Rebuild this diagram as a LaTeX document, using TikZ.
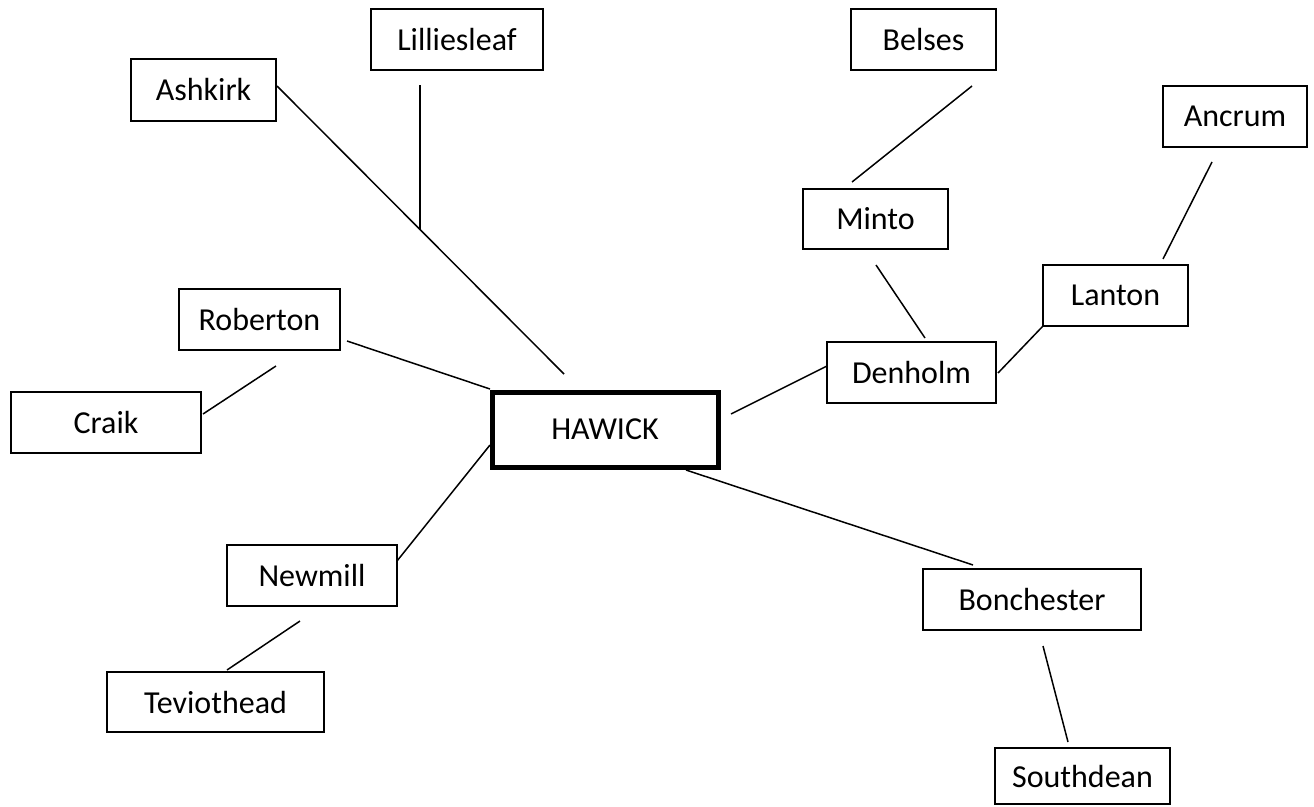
\documentclass[tikz,border=0pt]{standalone}
\usepackage{fontspec}
\setmainfont{Carlito}
\usetikzlibrary{calc}
\tikzset{
  place/.style={draw=black, line width=2pt, rectangle, outer sep=0pt, inner sep=0pt,
    font=\fontsize{32}{38}\selectfont, text=black},
  hub/.style={place, line width=5pt},
  link/.style={draw=black, line width=1.5pt}
}
\begin{document}
\begin{tikzpicture}[x=1pt,y=-1pt]
\useasboundingbox[fill=white] (0,0) rectangle (1314,806);
% nodes
\node[place, minimum width=172pt, minimum height=61pt] (lilliesleaf) at (457,39.5) {Lilliesleaf};
\node[place, minimum width=145pt, minimum height=62pt] (ashkirk) at (203.5,90) {Ashkirk};
\node[place, minimum width=145pt, minimum height=61pt] (belses) at (923.5,39.5) {Belses};
\node[place, minimum width=144pt, minimum height=61pt] (ancrum) at (1235,116.5) {Ancrum};
\node[place, minimum width=145pt, minimum height=60pt] (minto) at (875.5,219) {Minto};
\node[place, minimum width=145pt, minimum height=61pt] (lanton) at (1115.5,295.5) {Lanton};
\node[place, minimum width=169pt, minimum height=61pt] (denholm) at (911.5,372.5) {Denholm};
\node[place, minimum width=161pt, minimum height=61pt] (roberton) at (259.5,319.5) {Roberton};
\node[place, minimum width=190pt, minimum height=61pt] (craik) at (106,422.5) {Craik};
\node[hub, minimum width=226pt, minimum height=75pt] (hawick) at (605,429.5) {HAWICK};
\node[place, minimum width=170pt, minimum height=61pt] (newmill) at (312,575.5) {Newmill};
\node[place, minimum width=217pt, minimum height=60pt] (teviothead) at (215.5,702) {Teviothead};
\node[place, minimum width=218pt, minimum height=61pt] (bonchester) at (1032,599.5) {Bonchester};
\node[place, minimum width=175pt, minimum height=56pt] (southdean) at (1082.5,776) {Southdean};
% connector end points
\coordinate (ashA) at ([shift={(1,-4)}]ashkirk.east);
\coordinate (ashB) at ([shift={(-41,-18)}]hawick.north);
\coordinate (lilJ) at ($(ashA)!0.498!(ashB)$);
\coordinate (lilA) at ([shift={(-37,15)}]lilliesleaf.south);
% connectors
\draw[link] (ashA) -- (ashB);
\draw[link] (lilA) -- (lilA |- lilJ);
\draw[link] ([shift={(7,21.5)}]roberton.east) -- ([shift={(-2,-3)}]hawick.north west);
\draw[link] ([shift={(16.5,16)}]roberton.south) -- ([shift={(2,-8.5)}]craik.east);
\draw[link] ([shift={(-2,15.5)}]hawick.west) -- ([shift={(0,-14.5)}]newmill.east);
\draw[link] ([shift={(-12,15)}]newmill.south) -- ([shift={(11.5,-2)}]teviothead.north);
\draw[link] ([shift={(13,-15.5)}]hawick.east) -- ([shift={(0,-6.5)}]denholm.west);
\draw[link] ([shift={(13.5,-4)}]denholm.north) -- ([shift={(0.5,16)}]minto.south);
\draw[link] ([shift={(-23.5,-7)}]minto.north) -- ([shift={(48.5,16)}]belses.south);
\draw[link] ([shift={(2,0.5)}]denholm.east) -- (lanton.south west);
\draw[link] ([shift={(47.5,-6)}]lanton.north) -- ([shift={(-23,15)}]ancrum.south);
\draw[link] ([shift={(81,3)}]hawick.south) -- ([shift={(-59,-4)}]bonchester.north);
\draw[link] ([shift={(11,16)}]bonchester.south) -- ([shift={(-14.5,-6)}]southdean.north);
\end{tikzpicture}
\end{document}
